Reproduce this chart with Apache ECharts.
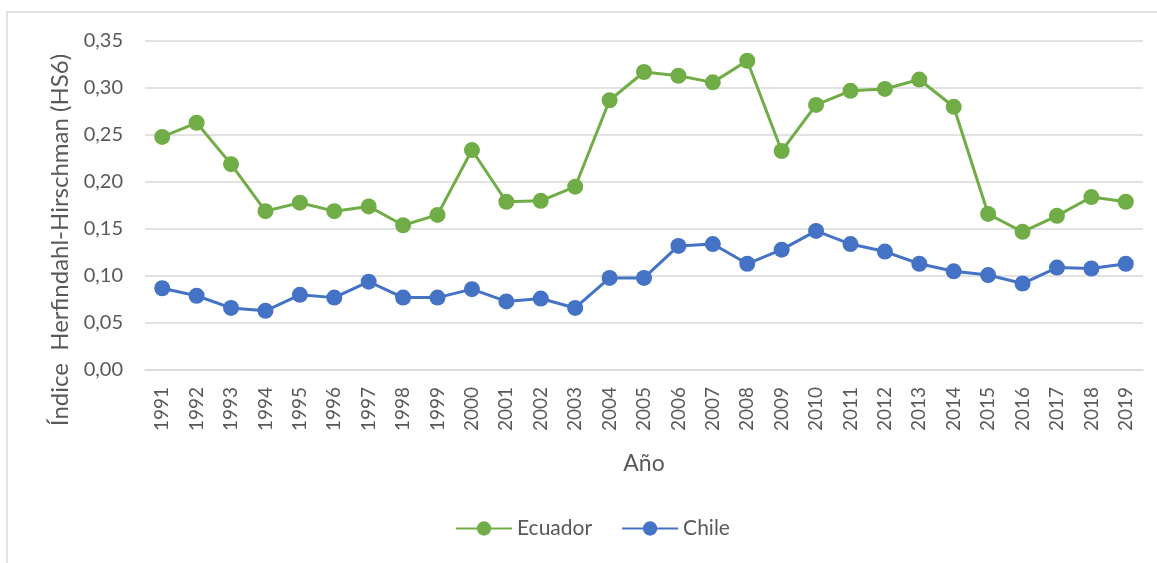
<!DOCTYPE html>
<html>
<head>
<meta charset="utf-8">
<script src="https://cdn.jsdelivr.net/npm/echarts@6/dist/echarts.min.js"></script>
<style>
  html, body { margin: 0; padding: 0; background: #fff; }
  #chart { width: 1157px; height: 563px; }
</style>
</head>
<body>
<div id="chart"></div>
<script>
// datos
const years = ['1991','1992','1993','1994','1995','1996','1997','1998','1999','2000',
  '2001','2002','2003','2004','2005','2006','2007','2008','2009','2010',
  '2011','2012','2013','2014','2015','2016','2017','2018','2019'];
const ecuador = [0.248,0.263,0.219,0.169,0.178,0.169,0.174,0.154,0.165,0.234,
  0.179,0.180,0.195,0.287,0.317,0.313,0.306,0.329,0.233,0.282,
  0.297,0.299,0.309,0.280,0.166,0.147,0.164,0.184,0.179];
const chile = [0.087,0.079,0.066,0.063,0.080,0.077,0.094,0.077,0.077,0.086,
  0.073,0.076,0.066,0.098,0.098,0.132,0.134,0.113,0.128,0.148,
  0.134,0.126,0.113,0.105,0.101,0.092,0.109,0.108,0.113];

const font = 'Lato, "Open Sans", sans-serif';
const gris = '#595959';

const chart = echarts.init(document.getElementById('chart'));
chart.setOption({
  animation: false,
  textStyle: { fontFamily: font },
  graphic: [
    {
      type: 'rect',
      shape: { x: 7, y: 12, width: 1160, height: 560 },
      style: { fill: 'none', stroke: '#d9d9d9', lineWidth: 1.5 },
      silent: true
    },
    {
      type: 'text',
      x: 60, y: 240,
      rotation: Math.PI / 2,
      style: {
        text: 'Índice  Herfindahl-Hirschman (HS6)',
        font: '24px ' + font,
        fill: gris,
        align: 'center',
        verticalAlign: 'middle'
      }
    }
  ],
  grid: { left: 145, right: 14, top: 41, bottom: 193 },
  legend: {
    bottom: 19,
    left: 450,
    itemWidth: 56,
    itemHeight: 18,
    itemGap: 29,
    textStyle: { color: gris, fontSize: 21, fontFamily: font },
    data: ['Ecuador', 'Chile']
  },
  xAxis: {
    type: 'category',
    data: years,
    name: 'Año',
    nameLocation: 'middle',
    nameGap: 82,
    nameTextStyle: { color: gris, fontSize: 23 },
    axisLine: { lineStyle: { color: '#d9d9d9', width: 1.5 } },
    axisTick: { show: false },
    axisLabel: { rotate: 90, color: gris, fontSize: 19, margin: 17, interval: 0 }
  },
  yAxis: {
    type: 'value',
    min: 0, max: 0.35, interval: 0.05,
    axisLine: { show: false },
    axisTick: { show: false },
    axisLabel: {
      color: gris, fontSize: 20, margin: 22,
      formatter: v => v.toFixed(2).replace('.', ',')
    },
    splitLine: { lineStyle: { color: '#d9d9d9', width: 1.5 } }
  },
  series: [
    {
      name: 'Ecuador', type: 'line', data: ecuador,
      symbol: 'circle', symbolSize: 16,
      itemStyle: { color: '#70AD47' },
      lineStyle: { color: '#70AD47', width: 3 }
    },
    {
      name: 'Chile', type: 'line', data: chile,
      symbol: 'circle', symbolSize: 16,
      itemStyle: { color: '#4472C4' },
      lineStyle: { color: '#4472C4', width: 3 }
    }
  ]
});
</script>
</body>
</html>
